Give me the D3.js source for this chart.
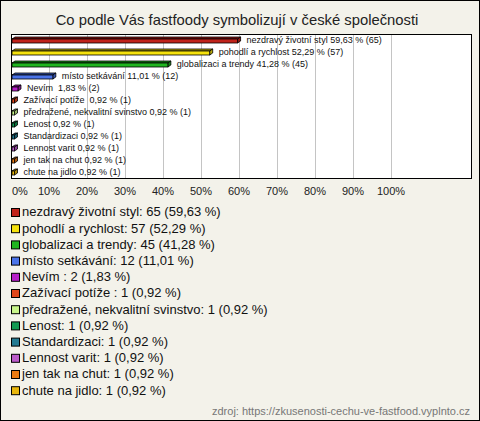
<!DOCTYPE html>
<html><head><meta charset="utf-8">
<script src="https://cdn.jsdelivr.net/npm/d3@7"></script>
<style>
html,body{margin:0;padding:0;background:#f3f2ea;}
svg{display:block;font-family:"Liberation Sans",Arial,sans-serif;}
text{white-space:pre;}
</style></head>
<body>
<svg id="c" width="480" height="421"></svg>
<script>
const categories = ["nezdravý životní styl","pohodlí a rychlost","globalizaci a trendy","místo setkávání","Nevím ","Zažívací potíže ","předražené, nekvalitní svinstvo","Lenost","Standardizaci","Lennost varit","jen tak na chut","chute na jidlo"];
const counts = [65,57,45,12,2,1,1,1,1,1,1,1];
const percents = [59.63,52.29,41.28,11.01,1.83,0.92,0.92,0.92,0.92,0.92,0.92,0.92];
const colors = ["#c0231b","#f5e20d","#1fb51f","#4a73e8","#b61fc8","#e0461a","#c8f58a","#139a52","#237a92","#bb5bc9","#ea7a12","#e8b60c"];
const tickValues = [0,10,20,30,40,50,60,70,80,90,100];
const title = "Co podle Vás fastfoody symbolizují v české společnosti";
const source = "zdroj: https://zkusenosti-cechu-ve-fastfood.vyplnto.cz";

const fmt = v => v.toFixed(2).replace(".", ",");
const svg = d3.select("#c");
const W = 480, H = 421;

svg.append("rect").attr("x",0.5).attr("y",0.5).attr("width",W-1).attr("height",H-1)
  .attr("fill","#f3f2ea").attr("stroke","#000");

svg.append("text").attr("x",237).attr("y",25).attr("text-anchor","middle")
  .attr("font-size",14.8).attr("fill","#222").text(title);

const plot = {x0:11, x1:471, y0:34, y1:178};
svg.append("rect").attr("x",plot.x0+0.5).attr("y",plot.y0+0.5)
  .attr("width",plot.x1-plot.x0).attr("height",plot.y1-plot.y0)
  .attr("fill","#fff");

const x = d3.scaleLinear().domain([0,100]).range([plot.x0, plot.x0+380]);
const y = d3.scaleBand().domain(categories).range([plot.y0, plot.y1]);

svg.append("g").selectAll("line").data(tickValues.slice(1)).join("line")
  .attr("x1",d=>Math.round(x(d))+0.5).attr("x2",d=>Math.round(x(d))+0.5)
  .attr("y1",plot.y0).attr("y2",plot.y1)
  .attr("stroke","#c4c4c4").attr("stroke-width",1);

svg.append("rect").attr("x",plot.x0+0.5).attr("y",plot.y0+0.5)
  .attr("width",plot.x1-plot.x0).attr("height",plot.y1-plot.y0)
  .attr("fill","none").attr("stroke","#000");

const dx = 3, dy = 2, fh = 4;
const bars = svg.append("g");
categories.forEach((c,i)=>{
  const cy = y(c) + y.bandwidth()/2;
  const xa = x(0)+1, xb = x(percents[i]);
  const col = colors[i];
  const dark = d3.color(col).darker(0.8);
  const top = cy - 1;
  bars.append("path")
    .attr("d",`M${xa},${top}L${xa+dx},${top-dy}L${xb+dx},${top-dy}L${xb},${top}Z`)
    .attr("fill",dark).attr("stroke","#000").attr("stroke-width",0.8);
  bars.append("path")
    .attr("d",`M${xb},${top}L${xb+dx},${top-dy}L${xb+dx},${top-dy+fh}L${xb},${top+fh}Z`)
    .attr("fill",dark).attr("stroke","#000").attr("stroke-width",0.8);
  bars.append("rect").attr("x",xa).attr("y",top).attr("width",Math.max(xb-xa,1)).attr("height",fh)
    .attr("fill",col).attr("stroke","#000").attr("stroke-width",0.8);
  bars.append("text").attr("x",xb+dx+6).attr("y",cy+1).attr("dominant-baseline","middle")
    .attr("font-size",9).attr("fill","#111")
    .text(`${c} ${fmt(percents[i])} % (${counts[i]})`);
});

const axisG = svg.append("g");
tickValues.forEach(t=>{
  const tx = axisG.append("text").attr("y",195).attr("font-size",11).attr("fill","#222")
    .attr("text-anchor","middle").text(t+"%");
  const w = tx.node().getComputedTextLength();
  tx.attr("x", Math.max(x(t), 12 + w/2));
});

const leg = svg.append("g");
categories.forEach((c,i)=>{
  const ly = 213 + i*16.2;
  leg.append("rect").attr("x",11.5).attr("y",ly-4.5).attr("width",8).attr("height",8)
    .attr("fill",colors[i]).attr("stroke","#000");
  leg.append("text").attr("x",22).attr("y",ly).attr("dominant-baseline","middle")
    .attr("font-size",13).attr("fill","#111")
    .text(`${c}: ${counts[i]} (${fmt(percents[i])} %)`);
});

svg.append("text").attr("x",470).attr("y",415).attr("text-anchor","end")
  .attr("font-size",11).attr("fill","#777").text(source);
</script>
</body></html>
